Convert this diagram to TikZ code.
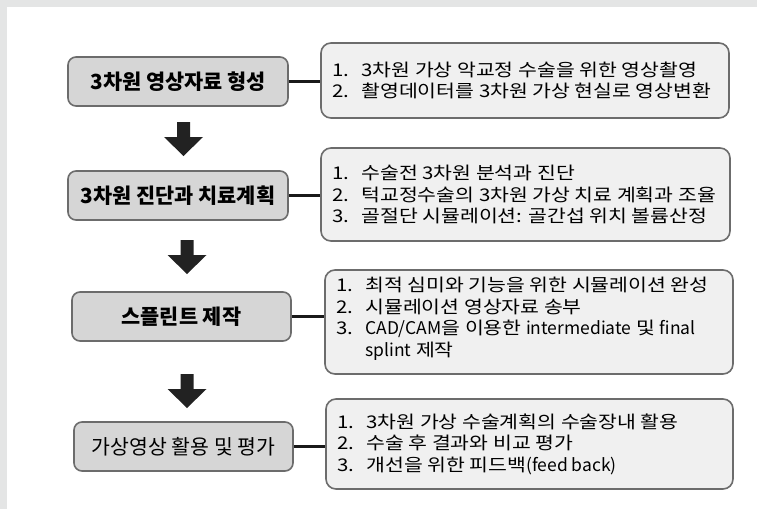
\documentclass[tikz,border=0pt]{standalone}
\usepackage{fontspec}
\setmainfont{Noto Sans CJK KR}[FakeStretch=1.17]
\newfontfamily\titlefont{Noto Sans CJK KR}
\newfontfamily\latn{Noto Sans CJK KR}
\definecolor{framec}{HTML}{E4E5E5}
\definecolor{lfill}{HTML}{D6D6D6}
\definecolor{rfill}{HTML}{F0F0F0}
\definecolor{bordc}{HTML}{6C6C6C}
\definecolor{arrc}{HTML}{222222}
\newcommand\numi[1]{\makebox[29pt][l]{#1}}
\newcommand\blkarr[2]{%
  \fill[arrc] (#1-6.5,#2) -- (#1+6.5,#2) -- (#1+6.5,#2+15) -- (#1+19.5,#2+15)
    -- (#1,#2+34) -- (#1-19.5,#2+15) -- (#1-6.5,#2+15) -- cycle;}
\begin{document}
\begin{tikzpicture}[x=1pt,y=-1pt,
  lbox/.style={draw=bordc, line width=1.6pt, fill=lfill, rounded corners=8pt,
    minimum width=220pt, minimum height=49pt, inner sep=0pt,
    font=\titlefont\fontsize{20.8}{24}\selectfont},
  rbox/.style={draw=bordc, line width=1.6pt, fill=rfill, rounded corners=10pt, inner sep=0pt},
  rtext/.style={anchor=west, align=left, inner sep=0pt, font=\fontsize{17.5}{21.5}\selectfont},
  link/.style={line width=3.5pt, black!90}]
\useasboundingbox (0,0) rectangle (768,509);
\fill[white] (0,0) rectangle (768,509);
\fill[framec] (0,0) rectangle (757,7);
\fill[framec] (0,0) rectangle (7,509);

% left boxes
\node[lbox] (l1) at (178,81.5) {\bfseries 3차원 영상자료 형성};
\node[lbox] (l2) at (178,195.5) {\bfseries 3차원 진단과 치료계획};
\node[lbox, minimum width=219pt] (l3) at (181.5,316.5) {\bfseries 스플린트 제작};
\node[lbox, minimum width=219pt] (l4) at (183.5,446.5) {\fontsize{20.5}{24}\selectfont 가상영상 활용 및 평가};

% right boxes
\node[rbox, minimum width=408pt, minimum height=75pt] (r1) at (525,80.5) {};
\node[rbox, minimum width=409pt, minimum height=93pt] (r2) at (525.5,194.5) {};
\node[rbox, minimum width=408pt, minimum height=104pt] (r3) at (529,322) {};
\node[rbox, minimum width=407pt, minimum height=90pt] (r4) at (529.5,444) {};

\node[rtext] (t1) at ([xshift=12pt]r1.west)
  {\numi{1.}3차원 가상 악교정 수술을 위한 영상촬영\\
   \numi{2.}촬영데이터를 3차원 가상 현실로 영상변환};
\node[rtext] (t2) at ([xshift=12pt]r2.west)
  {\numi{1.}수술전 3차원 분석과 진단\\
   \numi{2.}턱교정수술의 3차원 가상 치료 계획과 조율\\
   \numi{3.}골절단 시뮬레이션: 골간섭 위치 볼륨산정};
\node[rtext] (t3) at ([xshift=12pt,yshift=3pt]r3.west)
  {\numi{1.}최적 심미와 기능을 위한 시뮬레이션 완성\\
   \numi{2.}시뮬레이션 영상자료 송부\\
   \numi{3.}{\latn CAD/CAM}을 이용한 {\latn intermediate} 및 {\latn final}\\
   \numi{}{\latn splint} 제작};
\node[rtext] (t4) at ([xshift=12pt]r4.west)
  {\numi{1.}3차원 가상 수술계획의 수술장내 활용\\
   \numi{2.}수술 후 결과와 비교 평가\\
   \numi{3.}개선을 위한 피드백{\latn(feed back)}};

% connectors
\draw[link] (l1.east) -- (l1.east -| r1.west);
\draw[link] (l2.east) -- (l2.east -| r2.west);
\draw[link] (l3.east) -- (l3.east -| r3.west);
\draw[link] (l4.east) -- (l4.east -| r4.west);

% block arrows
\blkarr{183.5}{122}
\blkarr{187}{240}
\blkarr{187}{374}
\end{tikzpicture}
\end{document}
